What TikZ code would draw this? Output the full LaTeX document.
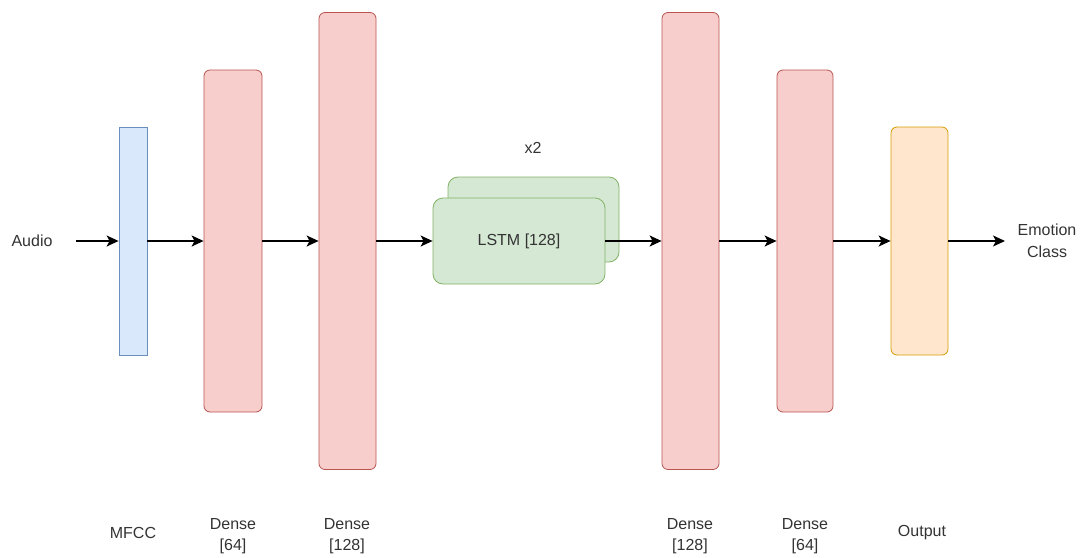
\documentclass[tikz,border=0pt]{standalone}
\usepackage{fontspec}
\setmainfont{Liberation Sans}
\usetikzlibrary{arrows.meta}
\definecolor{bluefill}{HTML}{DAE8FC}\definecolor{bluedraw}{HTML}{6C8EBF}
\definecolor{redfill}{HTML}{F8CECC}\definecolor{reddraw}{HTML}{B85450}
\definecolor{greenfill}{HTML}{D5E8D4}\definecolor{greendraw}{HTML}{82B366}
\definecolor{orangefill}{HTML}{FFE6CC}\definecolor{orangedraw}{HTML}{D79B00}
\tikzset{
  x=1pt, y=1pt,
  layer/.style={draw, line width=0.8pt, rounded corners=6pt, inner sep=0pt},
  bluebox/.style={layer, fill=bluefill, draw=bluedraw, rounded corners=0pt},
  redbox/.style={layer, fill=redfill, draw=reddraw},
  greenbox/.style={layer, fill=greenfill, draw=greendraw, rounded corners=10pt},
  orangebox/.style={layer, fill=orangefill, draw=orangedraw},
  lbl/.style={font=\fontsize{16}{21.5}\selectfont, text=black!80, align=center, inner sep=0pt},
  conn/.style={-{Stealth[length=12pt,width=11pt,inset=3pt]}, line width=1.4pt, black}
}
\begin{document}
\begin{tikzpicture}
\useasboundingbox (0,0) rectangle (1081,-557);
% layers
\node[bluebox, minimum width=28pt, minimum height=228pt] (mfcc) at (133,-241) {};
\node[redbox, minimum width=58pt, minimum height=342pt] (d1) at (233,-241) {};
\node[redbox, minimum width=57pt, minimum height=457pt] (d2) at (347.5,-241) {};
\node[greenbox, minimum width=171pt, minimum height=85pt] (lstmb) at (533.5,-219.5) {};
\node[greenbox, minimum width=172pt, minimum height=86pt, lbl] (lstm) at (519,-241) {LSTM [128]};
\node[redbox, minimum width=57pt, minimum height=457pt] (d3) at (690.5,-241) {};
\node[redbox, minimum width=56pt, minimum height=342pt] (d4) at (805,-241) {};
\node[orangebox, minimum width=57pt, minimum height=228pt] (out) at (919.5,-241) {};
% texts
\node[lbl] (audio) at (32,-241) {Audio};
\node[lbl] (emo) at (1047,-241) {Emotion\\Class};
\node[lbl] (x2) at (533,-148) {x2};
\node[lbl] (t1) at (133,-533) {MFCC};
\node[lbl] (t2) at (233,-536) {Dense\\{}[64]};
\node[lbl] (t3) at (347,-536) {Dense\\{}[128]};
\node[lbl] (t4) at (690,-536) {Dense\\{}[128]};
\node[lbl] (t5) at (805,-536) {Dense\\{}[64]};
\node[lbl] (t6) at (922,-533) {Output};
% connectors
\coordinate (a0) at (76,-241);
\coordinate (e0) at (1005,-241);
\draw[conn] (a0) -- (mfcc.west);
\draw[conn] (mfcc.east) -- (d1.west);
\draw[conn] (d1.east) -- (d2.west);
\draw[conn] (d2.east) -- (lstm.west);
\draw[conn] (lstm.east) -- (d3.west);
\draw[conn] (d3.east) -- (d4.west);
\draw[conn] (d4.east) -- (out.west);
\draw[conn] (out.east) -- (e0);
\end{tikzpicture}
\end{document}
